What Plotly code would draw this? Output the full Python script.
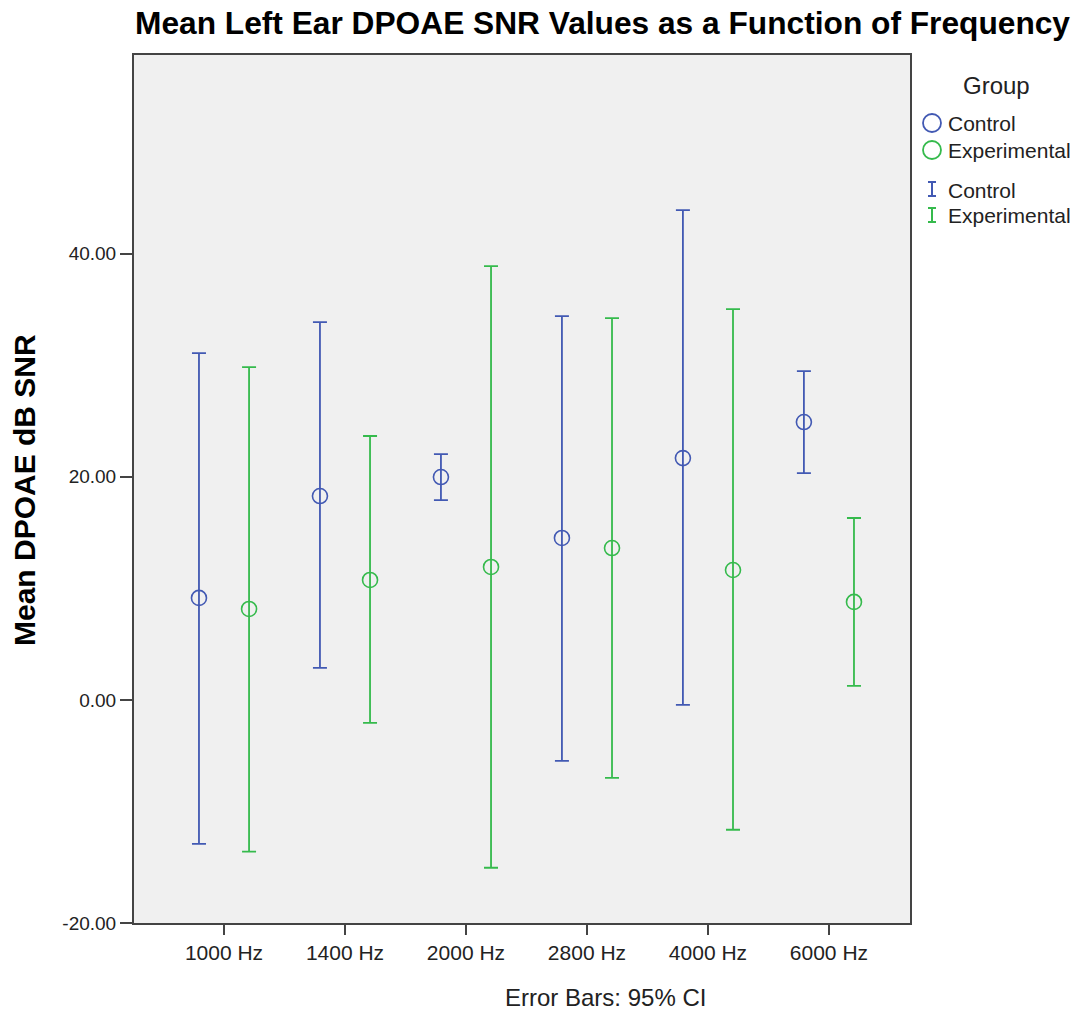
import plotly.graph_objects as go

categories = ["1000 Hz", "1400 Hz", "2000 Hz", "2800 Hz", "4000 Hz", "6000 Hz"]
control_mean = [9.14, 18.27, 19.97, 14.51, 21.67, 24.90]
control_upper = [31.08, 33.86, 22.03, 34.39, 43.89, 29.47]
control_lower = [-12.90, 2.87, 17.91, -5.46, -0.45, 20.33]
exp_mean = [8.15, 10.75, 11.91, 13.61, 11.64, 8.78]
exp_upper = [29.83, 23.65, 38.87, 34.21, 35.02, 16.30]
exp_lower = [-13.60, -2.06, -15.05, -6.99, -11.64, 1.25]

BLUE = "#4259B3"
GREEN = "#35BA4C"
FONT = "Liberation Sans, Arial, sans-serif"

idx = list(range(len(categories)))
offset = 0.207

def add_group(mean, upper, lower, color, shift):
    xs = [i + shift for i in idx]
    fig.add_trace(go.Scatter(
        x=xs, y=mean, mode="markers",
        marker=dict(symbol="circle-open", size=15, color=color, line=dict(width=1.6, color=color)),
        error_y=dict(type="data", symmetric=False,
                     array=[u - m for u, m in zip(upper, mean)],
                     arrayminus=[m - l for m, l in zip(mean, lower)],
                     color=color, thickness=1.8, width=7),
        showlegend=False, hoverinfo="skip"))

fig = go.Figure()
add_group(control_mean, control_upper, control_lower, BLUE, -offset)
add_group(exp_mean, exp_upper, exp_lower, GREEN, offset)

L, R, T, B = 134, 176, 55, 89
W, H = 1086, 1012
pw, ph = W - L - R, H - T - B

def px(xp):
    return (xp - L) / pw

def py(yp):
    return (H - B - yp) / ph

fig.update_layout(
    width=W, height=H,
    margin=dict(l=L, r=R, t=T, b=B),
    paper_bgcolor="white", plot_bgcolor="#F0F0F0",
    font=dict(family=FONT, color="#222222"),
    title=dict(text="<b>Mean Left Ear DPOAE SNR Values as a Function of Frequency</b>",
               x=135 / W, xanchor="left", xref="container", y=1 - 23 / H, yanchor="middle",
               yref="container", font=dict(size=31.7, color="black", family=FONT)),
    xaxis=dict(range=[-0.744, 5.67], tickmode="array", tickvals=idx, ticktext=categories,
               showgrid=False, zeroline=False, showline=True, mirror=True,
               linecolor="#444444", linewidth=2, ticks="outside", ticklen=10,
               tickcolor="#444444", tickwidth=1.5, tickfont=dict(size=21, color="#222222")),
    yaxis=dict(range=[-20, 57.8], tickmode="array", tickvals=[-20, 0, 20, 40],
               ticktext=["-20.00", "0.00", "20.00", "40.00"],
               showgrid=False, zeroline=False, showline=True, mirror=True,
               linecolor="#444444", linewidth=2, ticks="outside", ticklen=12,
               tickcolor="#444444", tickwidth=1.5, tickfont=dict(size=19, color="#222222")),
)

ann = []
ann.append(dict(text="<b>Mean DPOAE dB SNR</b>", x=px(24), y=py(490), xref="paper", yref="paper",
                showarrow=False, textangle=-90, font=dict(size=30, color="black"),
                xanchor="center", yanchor="middle"))
ann.append(dict(text="Error Bars: 95% CI", x=px(605), y=py(997), xref="paper", yref="paper",
                showarrow=False, font=dict(size=24, color="#222222"), xanchor="center", yanchor="middle"))
ann.append(dict(text="Group", x=px(996), y=py(85), xref="paper", yref="paper", showarrow=False,
                font=dict(size=24, color="#222222"), xanchor="center", yanchor="middle"))
leg = [("Control", BLUE, 123, "o"), ("Experimental", GREEN, 150, "o"),
       ("Control", BLUE, 189, "I"), ("Experimental", GREEN, 215, "I")]
shapes = []
for name, col, yy, kind in leg:
    ann.append(dict(text=name, x=px(946), y=py(yy + 1), xref="paper", yref="paper", showarrow=False,
                    font=dict(size=21, color="#222222"), xanchor="left", yanchor="middle"))
    if kind == "o":
        shapes.append(dict(type="circle", xref="paper", yref="paper", xsizemode="pixel",
                           ysizemode="pixel", xanchor=px(932), yanchor=py(yy),
                           x0=-9, x1=9, y0=-9, y1=9, line=dict(color=col, width=1.8)))
    else:
        for (x0, y0, x1, y1) in [(0, -7, 0, 7), (-4, 7, 4, 7), (-4, -7, 4, -7)]:
            shapes.append(dict(type="line", xref="paper", yref="paper", xsizemode="pixel",
                               ysizemode="pixel", xanchor=px(932), yanchor=py(yy),
                               x0=x0, x1=x1, y0=y0, y1=y1, line=dict(color=col, width=2)))
fig.update_layout(annotations=ann, shapes=shapes)

fig.write_html("out.html")
